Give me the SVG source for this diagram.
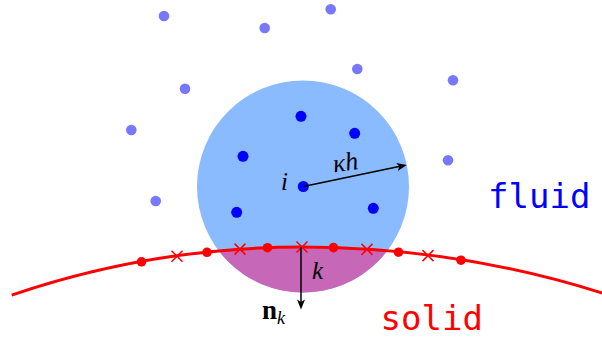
<svg xmlns="http://www.w3.org/2000/svg" width="602" height="340" viewBox="0 0 602 340">
  <style>
    .far { fill: #7878fc; }
    .near { fill: #0000ff; }
    .rdot { fill: #ff0000; }
    .rx { stroke: #ff0000; stroke-width: 1.5; fill: none; }
    .math { font-family: "Liberation Serif", "DejaVu Serif", serif; font-style: italic; fill: #000; }
    .bold { font-family: "Liberation Serif", "DejaVu Serif", serif; font-weight: bold; fill: #000; }
    .mono { font-family: "DejaVu Sans Mono", "Liberation Mono", monospace; font-size: 34px; }
    .arrow { stroke: #000; stroke-width: 1.5; fill: none; marker-end: url(#ah); }
  </style>
  <defs>
    <marker id="ah" viewBox="-8 -5 12 10" refX="0" refY="0" markerWidth="12" markerHeight="10" markerUnits="userSpaceOnUse" orient="auto">
      <path d="M3,0 L-7,-4 L-4.5,0 L-7,4 Z" fill="#000"/>
    </marker>
    <clipPath id="kernel">
      <circle cx="303" cy="186.5" r="106"/>
    </clipPath>
    <path id="wall" d="M 11.7 295.1 A 900 900 0 0 1 302 247 A 1000 1000 0 0 1 604 293.6"/>
    <g id="cross"><path class="rx" d="M-5.5,-5.5 L5.5,5.5 M-5.5,5.5 L5.5,-5.5"/></g>
  </defs>

  <!-- outer fluid particles -->
  <g id="outer-particles">
    <circle class="far" cx="164" cy="16" r="5.3"/>
    <circle class="far" cx="264.7" cy="28" r="5.3"/>
    <circle class="far" cx="330.7" cy="9.3" r="5.3"/>
    <circle class="far" cx="357.3" cy="69" r="5.3"/>
    <circle class="far" cx="453" cy="80.3" r="5.3"/>
    <circle class="far" cx="185" cy="88.7" r="5.3"/>
    <circle class="far" cx="131.3" cy="130" r="5.3"/>
    <circle class="far" cx="448" cy="160.3" r="5.3"/>
    <circle class="far" cx="155.7" cy="201" r="5.3"/>
  </g>

  <!-- kernel support -->
  <g id="kernel-support">
    <circle cx="303" cy="186.5" r="106" fill="#8abaff"/>
    <path d="M 11.7 295.1 A 900 900 0 0 1 302 247 A 1000 1000 0 0 1 604 293.6 L 604 340 L 0 340 Z" fill="#c667b7" clip-path="url(#kernel)"/>
  </g>

  <!-- neighbour particles -->
  <g id="neighbours">
    <circle class="near" cx="301" cy="116.3" r="5.5"/>
    <circle class="near" cx="354.7" cy="133.3" r="5.5"/>
    <circle class="near" cx="243" cy="156.3" r="5.5"/>
    <circle class="near" cx="236.7" cy="212.3" r="5.5"/>
    <circle class="near" cx="373.3" cy="208.3" r="5.5"/>
  </g>

  <!-- wall -->
  <g id="wall-boundary">
    <use href="#wall" fill="none" stroke="#ff0000" stroke-width="3"/>
    <circle class="rdot" cx="141.5" cy="261.8" r="4.8"/>
    <circle class="rdot" cx="207" cy="252.3" r="4.8"/>
    <circle class="rdot" cx="267.5" cy="247.7" r="4.8"/>
    <circle class="rdot" cx="333.5" cy="247.6" r="4.8"/>
    <circle class="rdot" cx="398.5" cy="252.2" r="4.8"/>
    <circle class="rdot" cx="461" cy="260.2" r="4.8"/>
    <use href="#cross" x="177" y="256.2"/>
    <use href="#cross" x="240" y="249.1"/>
    <use href="#cross" x="302" y="247"/>
    <use href="#cross" x="367" y="249.4"/>
    <use href="#cross" x="428" y="255.6"/>
  </g>

  <!-- particle i -->
  <g id="particle-i">
    <circle class="near" cx="303.3" cy="186.5" r="5.5"/>
    <text class="math" x="281" y="189.5" font-size="25">i</text>
  </g>

  <!-- connectors -->
  <g id="connectors">
    <line class="arrow" x1="303.3" y1="186.5" x2="403.8" y2="165.6"/>
    <line class="arrow" x1="301" y1="247" x2="301" y2="306.5"/>
  </g>

  <!-- labels -->
  <g id="labels">
    <text class="math" x="334" y="172.5" font-size="26" transform="rotate(-8 334 172.5)">κh</text>
    <text class="math" x="312" y="278.5" font-size="25">k</text>
    <text class="bold" x="262" y="319" font-size="27">n<tspan class="math" font-weight="normal" font-size="18" dy="5">k</tspan></text>
    <text class="mono" x="488" y="208" fill="#0000ff">fluid</text>
    <text class="mono" x="380.5" y="330" fill="#ff0000">solid</text>
  </g>
</svg>
